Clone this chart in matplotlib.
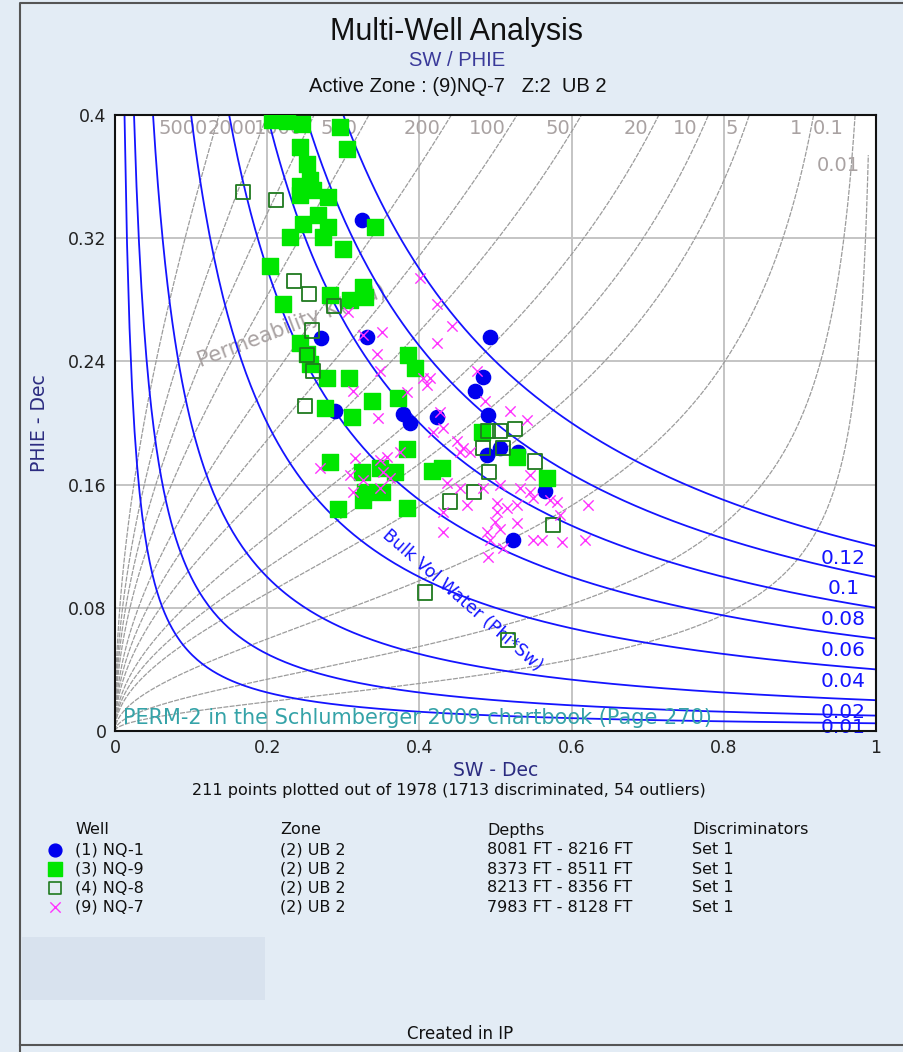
import numpy as np
import matplotlib
matplotlib.use('Agg')
import matplotlib.pyplot as plt
from matplotlib.patches import Rectangle

W, H = 904, 1052

# ---- chart values ----
x_ticks = [0, 0.2, 0.4, 0.6, 0.8, 1]
x_tick_labels = ['0', '0.2', '0.4', '0.6', '0.8', '1']
y_ticks = [0, 0.08, 0.16, 0.24, 0.32, 0.4]
y_tick_labels = ['0', '0.08', '0.16', '0.24', '0.32', '0.4']

# permeability lines (md) of the PERM-2 chart
perm_k = [5000, 2000, 1000, 500, 200, 100, 50, 20, 10, 5, 1, 0.1, 0.01]
perm_labels = ['5000', '2000', '1000', '500', '200', '100', '50', '20', '10', '5', '1', '0.1', '0.01']
perm_coef = 70.0

# bulk volume water lines (phi * sw)
bvw_values = [0.005, 0.01, 0.02, 0.04, 0.06, 0.08, 0.1, 0.12]
bvw_labels = ['', '0.01', '0.02', '0.04', '0.06', '0.08', '0.1', '0.12']

# (1) NQ-1
nq1_sw = [.325, .271, .331, .493, .484, .473, .289, .378, .388, .423, .490, .506, .489, .530, .565, .523]
nq1_phi = [.332, .255, .256, .256, .230, .221, .208, .206, .200, .204, .205, .184, .179, .181, .156, .124]

# (3) NQ-9
nq9_sw = [.206, .226, .246, .296, .243, .305, .252, .256, .243, .260, .243, .280, .267, .247, .280, .342,
          .230, .273, .300, .204, .326, .283, .309, .329, .221, .243, .252, .256, .279, .307, .385, .394,
          .338, .276, .372, .311, .384, .283, .325, .348, .368, .329, .351, .326, .293, .384, .417, .430,
          .482, .528, .568]
nq9_phi = [.397, .396, .394, .392, .379, .378, .368, .358, .354, .351, .348, .347, .335, .329, .327, .327,
           .321, .321, .313, .302, .288, .283, .280, .282, .277, .252, .245, .238, .229, .229, .244, .236,
           .214, .210, .216, .204, .183, .175, .168, .171, .168, .155, .155, .150, .144, .145, .169, .171,
           .194, .178, .164]

# (4) NQ-8
nq8_sw = [.168, .212, .235, .255, .288, .259, .252, .260, .250, .490, .506, .526, .484, .510, .552, .491,
          .472, .440, .576, .407, .516]
nq8_phi = [.350, .345, .292, .284, .276, .260, .244, .234, .211, .195, .195, .196, .184, .184, .175, .168,
           .155, .149, .134, .090, .059]

# (9) NQ-7
nq7_sw = [.351, .326, .344, .423, .443, .423, .401, .348, .405, .414, .410, .476, .486, .313, .384, .346,
          .519, .541, .427, .431, .418, .449, .457, .453, .466, .315, .269, .309, .326, .348, .357, .375,
          .352, .361, .348, .313, .545, .436, .453, .484, .506, .532, .545, .581, .463, .502, .515, .528,
          .431, .502, .499, .528, .489, .506, .493, .510, .561, .587, .490, .585, .572, .549, .431, .549,
          .306, .622, .618]
nq7_phi = [.259, .257, .245, .252, .263, .277, .294, .234, .229, .229, .225, .234, .214, .221, .220, .203,
           .208, .202, .207, .197, .194, .188, .184, .181, .181, .177, .171, .166, .163, .176, .178, .181,
           .168, .164, .158, .155, .166, .161, .158, .158, .160, .158, .155, .149, .147, .148, .145, .147,
           .142, .142, .136, .135, .129, .131, .124, .119, .124, .123, .113, .140, .150, .151, .129, .124,
           .272, .147, .124]

wells = ['(1) NQ-1', '(3) NQ-9', '(4) NQ-8', '(9) NQ-7']
zones = ['(2) UB 2', '(2) UB 2', '(2) UB 2', '(2) UB 2']
depths = ['8081 FT - 8216 FT', '8373 FT - 8511 FT', '8213 FT - 8356 FT', '7983 FT - 8128 FT']
discriminators = ['Set 1', 'Set 1', 'Set 1', 'Set 1']

# ---- styles ----
BG = '#e3ecf5'
BLUE = '#1414ff'
GREEN = '#00e600'
DKGREEN = '#1f7a1f'
MAGENTA = '#ff33ff'
NAVY = '#2b2b80'
PERMGRAY = '#9c9c9c'
LABELGRAY = '#a9a2a2'

fig = plt.figure(figsize=(W / 100, H / 100), dpi=100, facecolor=BG)

# overlay in pixel coordinates for the frame and the legend table
lay = fig.add_axes([0, 0, 1, 1], zorder=0)
lay.set_xlim(0, W)
lay.set_ylim(H, 0)
lay.axis('off')
lay.plot([20, 20, W], [H, 3, 3], color='#555555', lw=1.5)
lay.plot([20, W], [1045, 1045], color='#555555', lw=1.5)
lay.add_patch(Rectangle((22, 937), 243, 63, facecolor='#d8e2ee', edgecolor='none'))

fig.text(457 / W, 1 - 32 / H, 'Multi-Well Analysis', ha='center', va='center',
         fontsize=22, family='Liberation Sans', color='#111111')
fig.text(457 / W, 1 - 60 / H, 'SW / PHIE', ha='center', va='center',
         fontsize=14.5, family='Liberation Sans', color='#3a3a9a')
fig.text(458 / W, 1 - 86 / H, 'Active Zone : (9)NQ-7   Z:2  UB 2', ha='center', va='center',
         fontsize=14.5, family='Liberation Sans', color='#111111')

ax = fig.add_axes([115 / W, 1 - 731 / H, 761 / W, 616 / H], zorder=2)
ax.set_facecolor('white')
ax.set_xlim(0, 1)
ax.set_ylim(0, 0.4)
ax.set_xticks(x_ticks)
ax.set_xticklabels(x_tick_labels)
ax.set_yticks(y_ticks)
ax.set_yticklabels(y_tick_labels)
ax.tick_params(length=0, pad=6, labelsize=12.5, labelcolor='#222222')
ax.grid(True, color='#c4c4c4', lw=1.4)
ax.set_axisbelow(True)
for sp in ax.spines.values():
    sp.set_linewidth(1.5)
    sp.set_color('#111111')
ax.set_xlabel('SW - Dec', color=NAVY, fontsize=13.5, labelpad=3)
ax.set_ylabel('PHIE - Dec', color=NAVY, fontsize=13.5, labelpad=14)

px = 1 / 761.0
py = 0.4 / 616.0

# permeability lines
phi = np.linspace(0, 0.4, 400)
for k, lab in zip(perm_k, perm_labels):
    p = phi if k >= 0.1 else phi[phi <= 0.374]
    a = perm_coef * p ** 2
    sw = a / (a + np.sqrt(k))
    ax.plot(sw, p, color=PERMGRAY, lw=0.9, ls=(0, (4, 1)), zorder=1)
    if k >= 0.1:
        ax.text(sw[-1] - 11 * px, 0.4 - 14 * py, lab, ha='right', va='center',
                fontsize=14, color=LABELGRAY, zorder=1)
    else:
        ax.text(sw[-1] - 8 * px, p[-1] - 10 * py, lab, ha='right', va='center',
                fontsize=14, color=LABELGRAY, zorder=1)

# bulk volume water lines
for c, lab in zip(bvw_values, bvw_labels):
    sw = np.linspace(c / 0.4, 1, 300)
    ax.plot(sw, c / sw, color=BLUE, lw=1.3, zorder=1.5)
    if lab:
        ax.text(0.957, c - 12 * py, lab, ha='center', va='center', fontsize=14.5,
                color=BLUE, zorder=1.5)

ax.text(0.232, 0.263, 'Permeability K(md)', rotation=21, ha='center', va='center',
        fontsize=15, color=LABELGRAY, zorder=1)
ax.text(0.456, 0.085, 'Bulk Vol Water (Phi*Sw)', rotation=-41, ha='center', va='center',
        fontsize=12.5, color=BLUE, zorder=1.5)
ax.text(0.0105, 0.0084, 'PERM-2 in the Schlumberger 2009 chartbook (Page 270)', ha='left',
        va='center', fontsize=15, color='#35a3a8', zorder=5)

# wells
ax.scatter(nq1_sw, nq1_phi, s=105, marker='o', color='#0000ee', zorder=3)
ax.scatter(nq9_sw, nq9_phi, s=130, marker='s', color=GREEN, zorder=3)
ax.scatter(nq8_sw, nq8_phi, s=105, marker='s', facecolor='none', edgecolor=DKGREEN, lw=1.3, zorder=3)
ax.scatter(nq7_sw, nq7_phi, s=55, marker='x', color=MAGENTA, lw=1.0, zorder=3)

fig.text(449 / W, 1 - 790 / H, '211 points plotted out of 1978 (1713 discriminated, 54 outliers)',
         ha='center', va='center', fontsize=11.5, color='#111111')

# legend table
cols = [75, 280, 487, 692]
heads = ['Well', 'Zone', 'Depths', 'Discriminators']
for cx, hd in zip(cols, heads):
    lay.text(cx, 830, hd, ha='left', va='center', fontsize=11.5, color='#111111')
rows = [850, 869, 888, 907]
for i, ry in enumerate(rows):
    for cx, txt in zip(cols, [wells[i], zones[i], depths[i], discriminators[i]]):
        lay.text(cx, ry, txt, ha='left', va='center', fontsize=11.5, color='#111111')
lay.scatter([55], [rows[0]], s=85, marker='o', color='#0000ee')
lay.scatter([55], [rows[1]], s=100, marker='s', color=GREEN)
lay.scatter([55], [rows[2]], s=85, marker='s', facecolor='none', edgecolor=DKGREEN, lw=1.2)
lay.scatter([55], [rows[3]], s=55, marker='x', color=MAGENTA, lw=1.0)

fig.text(460 / W, 1 - 1034 / H, 'Created in IP', ha='center', va='center', fontsize=12, color='#111111')

fig.savefig('out.png', dpi=100, facecolor=BG)
